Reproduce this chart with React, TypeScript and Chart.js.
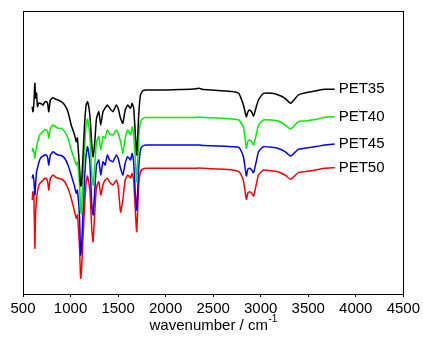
import React, { useEffect, useRef } from 'react';
import { Chart, registerables } from 'chart.js';

Chart.register(...registerables);

const wavenumbers = [
  597, 604, 614, 625, 632, 642, 652, 665, 680, 695,
  712, 730, 746, 760, 771, 788, 816, 840, 869, 903,
  938, 973, 1007, 1043, 1060, 1072, 1095, 1106, 1115, 1130,
  1147, 1164, 1179, 1203, 1224, 1237, 1255, 1273, 1297, 1318,
  1341, 1364, 1387, 1411, 1446, 1481, 1500, 1526, 1550, 1575,
  1602, 1631, 1648, 1664, 1680, 1696, 1717, 1735, 1759, 1795,
  1900, 2000, 2150, 2300, 2350, 2400, 2550, 2700, 2769, 2800,
  2821, 2849, 2865, 2883, 2905, 2925, 2950, 2977, 3029, 3116,
  3186, 3256, 3315, 3395, 3460, 3534, 3600, 3674, 3778,
];

const pet35 = [
  187.3, 182.3, 190, 210.7, 196, 201, 187.3, 191, 190.7, 190,
  189, 192, 192.3, 190, 182.3, 194, 196.3, 195, 194, 192.3,
  189, 182.3, 169, 159, 152.3, 156, 125.7, 108, 109, 136,
  169, 189, 192.3, 179, 149, 137.3, 152.3, 175.7, 182.3, 169,
  182.3, 186, 189, 186, 182.3, 189, 186, 175.7, 170.7, 184,
  189, 185.7, 190.7, 186, 162.3, 139, 179, 199, 203.3, 204,
  204, 204, 204.5, 205, 205.7, 204.5, 203.5, 202.5, 200.7, 194,
  188, 177.3, 182, 184, 182, 178, 186, 194, 200.7, 200.7,
  199, 195.7, 190.7, 199, 201, 202.3, 203.5, 204.7, 204.7,
];

const pet40 = [
  142.3, 145.7, 142, 135.7, 142.3, 146, 151, 156, 160, 161,
  163, 164.5, 164, 162, 155.7, 165.7, 169, 167.3, 165.7, 165.7,
  162.3, 155.7, 144, 134, 129, 132, 109, 84, 80, 114,
  145.7, 169, 175, 159, 119, 109, 129, 152.3, 157.3, 144,
  157.3, 156, 164, 160, 159, 164, 160.7, 152.3, 140.7, 155.7,
  164, 159, 167.3, 159, 135.7, 112.3, 155.7, 172, 175.5, 176.5,
  176.5, 176.5, 176.5, 176.5, 177, 176.5, 176, 175, 174, 170,
  166, 145.7, 153, 154, 152, 149, 158, 169, 174, 174,
  173, 169, 165, 172.3, 173, 174, 175, 176.7, 177.3,
];

const pet45 = [
  115.7, 119, 114, 99, 109, 122, 125.7, 131, 135, 137.3,
  138, 139, 139, 136, 129, 139, 142.3, 140.5, 139, 138.5,
  135.7, 129, 119, 107.3, 100.7, 104, 75.7, 39, 44, 79,
  114, 139, 147.3, 132.3, 89, 79, 104, 129, 134, 119,
  132.3, 129, 139, 134, 132.3, 139, 136, 125.7, 119, 130.7,
  137.3, 134, 140.7, 132, 102.3, 84, 125.7, 144, 148, 149,
  149, 149, 149, 149, 149, 148.5, 148, 147.3, 146.7, 142,
  136, 118, 125, 125.7, 124, 121.3, 131, 142.3, 147.3, 146.7,
  145.5, 142.3, 138, 144.7, 145.7, 146.7, 147.7, 149, 150,
];

const pet50 = [
  94, 102.3, 99, 45.7, 79, 94, 102.3, 108, 111, 112.3,
  114, 115.5, 115.7, 112, 104, 115.7, 119, 117, 115.7, 115,
  112.3, 105.7, 95.7, 82.3, 75.7, 79, 45.7, 15.7, 22, 54,
  86, 112, 118, 104, 64, 52.3, 82, 107, 112.3, 99,
  109, 114, 115.7, 112, 109, 114, 109, 82, 94, 114,
  119, 116, 120.7, 114, 85.7, 62.3, 109, 122, 125, 125.7,
  125.7, 125.7, 125.7, 125.7, 126, 125.7, 125, 124, 122.3, 118,
  112, 94.7, 101, 102.3, 101, 98, 108, 119, 124, 123,
  122, 119, 114.7, 121.3, 122.3, 123.3, 124.5, 125.7, 126.3,
];

const seriesNames = ['PET35', 'PET40', 'PET45', 'PET50'];
const seriesValues = [pet35, pet40, pet45, pet50];
const seriesColors = ['#000000', '#00f000', '#0000ff', '#ff0000'];
const xTicks = [500, 1000, 1500, 2000, 2500, 3000, 3500, 4000, 4500];
const xTitleMain = 'wavenumber / cm';
const xTitleSup = '-1';

const FONT = '"Liberation Sans", Arial, sans-serif';

const framePlugin = {
  id: 'frame',
  afterDatasetsDraw(chart: any) {
    const { ctx, chartArea } = chart;
    const { left, right, top, bottom } = chartArea;
    ctx.save();
    ctx.strokeStyle = '#000';
    ctx.lineWidth = 1;
    ctx.strokeRect(Math.round(left) + 0.5, Math.round(top) + 0.5, Math.round(right - left), Math.round(bottom - top));
    // series labels at the right end of each curve
    ctx.font = `15px ${FONT}`;
    ctx.fillStyle = '#000';
    ctx.textBaseline = 'middle';
    ctx.textAlign = 'left';
    chart.data.datasets.forEach((ds: any, i: number) => {
      const meta = chart.getDatasetMeta(i);
      const last = meta.data[meta.data.length - 1];
      if (last) ctx.fillText(seriesNames[i], last.x + 4, last.y);
    });
    // axis title with superscript
    ctx.font = `15px ${FONT}`;
    const wMain = ctx.measureText(xTitleMain).width;
    ctx.font = `10px ${FONT}`;
    const wSup = ctx.measureText(xTitleSup).width;
    const cx = (left + right) / 2;
    const startX = cx - (wMain + wSup) / 2;
    const baseY = bottom + 36;
    ctx.textBaseline = 'alphabetic';
    ctx.font = `15px ${FONT}`;
    ctx.fillText(xTitleMain, startX, baseY);
    ctx.font = `10px ${FONT}`;
    ctx.fillText(xTitleSup, startX + wMain + 0.5, baseY - 8);
    ctx.restore();
  },
};

export default function App() {
  const canvasRef = useRef<HTMLCanvasElement | null>(null);

  useEffect(() => {
    if (!canvasRef.current) return;
    const chart = new Chart(canvasRef.current, {
      type: 'line',
      data: {
        datasets: seriesValues.map((vals, i) => ({
          label: seriesNames[i],
          data: wavenumbers.map((w, j) => ({ x: w, y: vals[j] })),
          borderColor: seriesColors[i],
          backgroundColor: seriesColors[i],
          borderWidth: 1.5,
          pointRadius: 0,
          tension: 0.15,
          fill: false,
        })),
      },
      options: {
        animation: false,
        responsive: true,
        maintainAspectRatio: false,
        layout: { padding: { left: 23, right: 18, top: 11, bottom: 0 } },
        plugins: {
          legend: { display: false },
          tooltip: { enabled: false },
        },
        scales: {
          x: {
            type: 'linear',
            min: 500,
            max: 4500,
            afterBuildTicks: (scale: any) => {
              scale.ticks = xTicks.map((v) => ({ value: v }));
            },
            afterFit: (scale: any) => {
              scale.height = 46;
            },
            ticks: {
              color: '#000',
              font: { family: FONT, size: 15 },
              maxRotation: 0,
              autoSkip: false,
              padding: 3,
              callback: (v: any) => String(v),
            },
            grid: {
              display: true,
              drawOnChartArea: false,
              drawTicks: true,
              tickLength: 3,
              color: '#000',
            },
            border: { display: true, color: '#000', width: 1 },
          },
          y: {
            type: 'linear',
            min: 0,
            max: 283,
            display: false,
          },
        },
      },
      plugins: [framePlugin],
    });
    return () => chart.destroy();
  }, []);

  return (
    <div style={{ position: 'fixed', left: 0, top: 0, width: 423, height: 340, background: '#fff' }}>
      <canvas ref={canvasRef} />
    </div>
  );
}
